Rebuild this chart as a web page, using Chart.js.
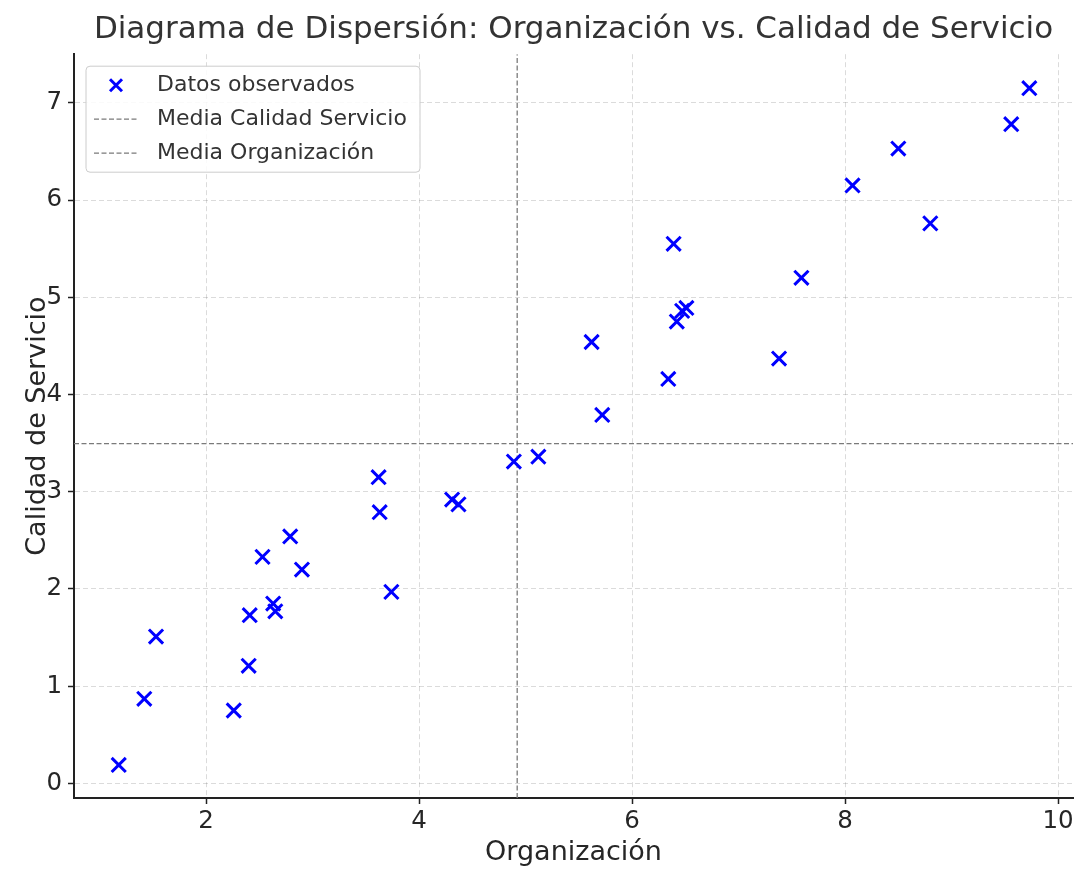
<!DOCTYPE html>
<html>
<head>
<meta charset="utf-8">
<script src="https://cdn.jsdelivr.net/npm/chart.js@4/dist/chart.umd.min.js"></script>
<style>
  html, body { margin: 0; background: #fff; }
  #wrap { width: 1075px; height: 869px; }
</style>
</head>
<body>
<div id="wrap"><canvas id="scatterChart" width="1075" height="869"></canvas></div>
<script>
// Data
const organizacion = [1.18, 1.42, 1.53, 2.26, 2.40, 2.41, 2.53, 2.63, 2.65, 2.79, 2.90,
  3.62, 3.63, 3.74, 4.31, 4.37, 4.89, 5.12, 5.62, 5.72, 6.34, 6.39, 6.42, 6.47, 6.51,
  7.38, 7.59, 8.07, 8.50, 8.80, 9.56, 9.73];
const calidadServicio = [0.19, 0.87, 1.51, 0.75, 1.21, 1.73, 2.33, 1.85, 1.77, 2.54, 2.20,
  3.15, 2.79, 1.97, 2.92, 2.87, 3.31, 3.36, 4.54, 3.79, 4.16, 5.55, 4.75, 4.86, 4.89,
  4.37, 5.20, 6.15, 6.53, 5.76, 6.78, 7.15];
const xTicks = [2, 4, 6, 8, 10];
const yTicks = [0, 1, 2, 3, 4, 5, 6, 7];
const xRange = [0.76, 10.14];
const yRange = [-0.15, 7.5];

const mean = arr => arr.reduce((a, b) => a + b, 0) / arr.length;
const mediaOrg = mean(organizacion);
const mediaCal = mean(calidadServicio);

const points = organizacion.map((x, i) => ({ x: x, y: calidadServicio[i] }));

const FONT = "'DejaVu Sans', sans-serif";
const TEXT = '#262626';

// Legend drawn inside the plot, top-left (matplotlib style)
const insideLegend = {
  id: 'insideLegend',
  afterDraw(chart) {
    const ctx = chart.ctx;
    const area = chart.chartArea;
    const x0 = area.left + 12, y0 = area.top + 12;
    const w = 334, h = 106, row = 34;
    ctx.save();
    ctx.beginPath();
    ctx.roundRect(x0, y0, w, h, 4);
    ctx.fillStyle = 'rgba(255,255,255,0.85)';
    ctx.fill();
    ctx.strokeStyle = '#cccccc';
    ctx.lineWidth = 1;
    ctx.stroke();

    ctx.font = '22px ' + FONT;
    ctx.fillStyle = '#333';
    ctx.textBaseline = 'middle';
    chart.data.datasets.forEach((ds, i) => {
      const cy = y0 + 19 + i * row;
      const cx = x0 + 30;
      if (ds.type === 'line') {
        ctx.save();
        ctx.strokeStyle = ds.borderColor;
        ctx.lineWidth = ds.borderWidth;
        ctx.setLineDash(ds.borderDash);
        ctx.beginPath();
        ctx.moveTo(cx - 22, cy);
        ctx.lineTo(cx + 22, cy);
        ctx.stroke();
        ctx.restore();
      } else {
        ctx.save();
        ctx.strokeStyle = ds.borderColor;
        ctx.lineWidth = ds.borderWidth;
        const r = 6;
        ctx.beginPath();
        ctx.moveTo(cx - r, cy - r); ctx.lineTo(cx + r, cy + r);
        ctx.moveTo(cx - r, cy + r); ctx.lineTo(cx + r, cy - r);
        ctx.stroke();
        ctx.restore();
      }
      ctx.fillText(ds.label, x0 + 71, cy);
    });
    ctx.restore();
  }
};

const ctx = document.getElementById('scatterChart').getContext('2d');
new Chart(ctx, {
  type: 'scatter',
  data: {
    datasets: [
      {
        label: 'Datos observados',
        data: points,
        pointStyle: 'crossRot',
        pointRadius: 10,
        pointHoverRadius: 10,
        borderColor: '#0000ff',
        backgroundColor: '#0000ff',
        borderWidth: 3,
      },
      {
        type: 'line',
        label: 'Media Calidad Servicio',
        data: [{ x: xRange[0], y: mediaCal }, { x: xRange[1], y: mediaCal }],
        borderColor: '#7a7a7a',
        borderWidth: 1.3,
        borderDash: [5, 2.5],
        pointRadius: 0,
        fill: false,
      },
      {
        type: 'line',
        label: 'Media Organización',
        data: [{ x: mediaOrg, y: yRange[0] }, { x: mediaOrg, y: yRange[1] }],
        borderColor: '#7a7a7a',
        borderWidth: 1.3,
        borderDash: [5, 2.5],
        pointRadius: 0,
        fill: false,
      },
    ],
  },
  options: {
    responsive: false,
    animation: false,
    layout: { autoPadding: false, padding: { left: 0, right: 2, top: 0, bottom: 0 } },
    plugins: {
      legend: { display: false },
      tooltip: { enabled: false },
      title: {
        display: true,
        fullSize: false,
        text: 'Diagrama de Dispersión: Organización vs. Calidad de Servicio',
        color: '#333',
        font: { family: FONT, size: 31, weight: 'normal', lineHeight: 1.2 },
        padding: { top: 11, bottom: 6 },
      },
    },
    scales: {
      x: {
        type: 'linear',
        min: xRange[0],
        max: xRange[1],
        afterBuildTicks: scale => { scale.ticks = xTicks.map(v => ({ value: v })); },
        afterFit: scale => {
          scale.height = 71;
          scale.paddingLeft = 0;
          scale.paddingRight = 0;
        },
        ticks: { color: TEXT, font: { family: FONT, size: 24.5 }, padding: 3 },
        grid: {
          color: 'rgba(0,0,0,0.14)',
          tickColor: '#222',
          tickLength: 6,
          tickWidth: 1.5,
          tickBorderDash: [],
          lineWidth: 1,
        },
        border: { display: true, color: '#222', width: 2, dash: [5, 3] },
        title: {
          display: true,
          text: 'Organización',
          color: TEXT,
          font: { family: FONT, size: 27, lineHeight: 1.2 },
          padding: { top: 0, bottom: 0 },
        },
      },
      y: {
        type: 'linear',
        min: yRange[0],
        max: yRange[1],
        afterBuildTicks: scale => { scale.ticks = yTicks.map(v => ({ value: v })); },
        afterFit: scale => {
          scale.width = 74;
          scale.paddingTop = 0;
          scale.paddingBottom = 0;
        },
        ticks: { color: TEXT, font: { family: FONT, size: 24.5 }, padding: 6 },
        grid: {
          color: 'rgba(0,0,0,0.14)',
          tickColor: '#222',
          tickLength: 6,
          tickWidth: 1.5,
          tickBorderDash: [],
          lineWidth: 1,
        },
        border: { display: true, color: '#222', width: 2, dash: [5, 3] },
        title: {
          display: true,
          text: 'Calidad de Servicio',
          color: TEXT,
          font: { family: FONT, size: 27, lineHeight: 1.2 },
          padding: { top: 22, bottom: 0 },
        },
      },
    },
  },
  plugins: [insideLegend],
});
</script>
</body>
</html>
